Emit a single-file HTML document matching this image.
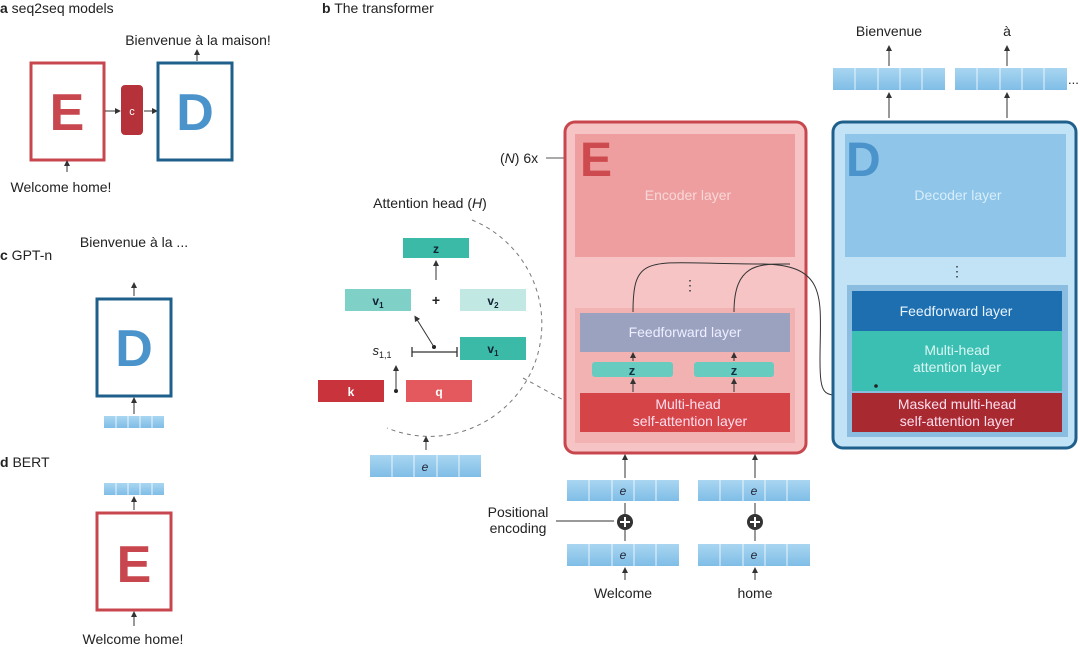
<!DOCTYPE html>
<html><head><meta charset="utf-8"><style>
html,body{margin:0;padding:0;background:#fff}
svg{display:block}
text{font-family:"Liberation Sans",sans-serif}
</style></head><body>
<svg width="1080" height="647" viewBox="0 0 1080 647" xmlns="http://www.w3.org/2000/svg">
<defs>
<marker id="ar" markerWidth="6" markerHeight="6" refX="3" refY="3" orient="auto"><path d="M0,0 L6,3 L0,6 z" fill="#333"/></marker>
<linearGradient id="tok" x1="0" x2="0" y1="0" y2="1"><stop offset="0" stop-color="#a9d6f1"/><stop offset="1" stop-color="#7fbde6"/></linearGradient>
</defs>
<g font-size="14" fill="#222">
<text x="0" y="13"><tspan font-weight="bold">a</tspan>  seq2seq models</text>
<text x="322" y="13"><tspan font-weight="bold">b</tspan>  The transformer</text>
<text x="0" y="260"><tspan font-weight="bold">c</tspan>  GPT-n</text>
<text x="0" y="467"><tspan font-weight="bold">d</tspan>  BERT</text>
</g>
<!-- panel a -->
<text x="198" y="45" font-size="14" text-anchor="middle" fill="#222">Bienvenue à la maison!</text>
<line x1="197" y1="61" x2="197" y2="52" stroke="#333" marker-end="url(#ar)"/>
<rect x="31" y="63" width="73" height="97" fill="#fff" stroke="#c8474f" stroke-width="3"/>
<text x="67" y="130" font-size="52" font-weight="bold" fill="#c8474f" text-anchor="middle">E</text>
<line x1="105" y1="111" x2="118" y2="111" stroke="#333" marker-end="url(#ar)"/>
<rect x="121" y="85" width="22" height="50" rx="4" fill="#b5323a"/>
<text x="132" y="115" font-size="11" fill="#fff" text-anchor="middle">c</text>
<line x1="144" y1="111" x2="155" y2="111" stroke="#333" marker-end="url(#ar)"/>
<rect x="158" y="63" width="74" height="97" fill="#fff" stroke="#1f5f8b" stroke-width="3"/>
<text x="195" y="130" font-size="52" font-weight="bold" fill="#4b93cb" text-anchor="middle">D</text>
<line x1="67" y1="172" x2="67" y2="163" stroke="#333" marker-end="url(#ar)"/>
<text x="61" y="192" font-size="14" text-anchor="middle" fill="#222">Welcome home!</text>
<!-- panel c -->
<text x="134" y="247" font-size="14" text-anchor="middle" fill="#222">Bienvenue à la ...</text>
<line x1="134" y1="296" x2="134" y2="285" stroke="#333" marker-end="url(#ar)"/>
<rect x="97" y="299" width="74" height="97" fill="#fff" stroke="#1f5f8b" stroke-width="3"/>
<text x="134" y="366" font-size="52" font-weight="bold" fill="#4b93cb" text-anchor="middle">D</text>
<line x1="134" y1="414" x2="134" y2="400" stroke="#333" marker-end="url(#ar)"/>
<rect x="104" y="416" width="60" height="12" fill="url(#tok)"/>
<g stroke="#fff" stroke-width="0.8"><line x1="116" y1="416" x2="116" y2="428"/><line x1="128" y1="416" x2="128" y2="428"/><line x1="140" y1="416" x2="140" y2="428"/><line x1="152" y1="416" x2="152" y2="428"/></g>
<!-- panel d -->
<rect x="104" y="483" width="60" height="12" fill="url(#tok)"/>
<g stroke="#fff" stroke-width="0.8"><line x1="116" y1="483" x2="116" y2="495"/><line x1="128" y1="483" x2="128" y2="495"/><line x1="140" y1="483" x2="140" y2="495"/><line x1="152" y1="483" x2="152" y2="495"/></g>
<line x1="134" y1="510" x2="134" y2="499" stroke="#333" marker-end="url(#ar)"/>
<rect x="97" y="513" width="74" height="97" fill="#fff" stroke="#c8474f" stroke-width="3"/>
<text x="134" y="582" font-size="52" font-weight="bold" fill="#c8474f" text-anchor="middle">E</text>
<line x1="134" y1="626" x2="134" y2="614" stroke="#333" marker-end="url(#ar)"/>
<text x="133" y="644" font-size="14" text-anchor="middle" fill="#222">Welcome home!</text>

<!-- attention head -->
<text x="430" y="208" font-size="14" text-anchor="middle" fill="#222">Attention head (<tspan font-style="italic">H</tspan>)</text>
<path d="M472,220 A106,106 0 0 1 387,428" fill="none" stroke="#777" stroke-dasharray="4,4"/>
<line x1="523" y1="378" x2="578" y2="408" stroke="#777" stroke-dasharray="4,4"/>
<rect x="403" y="238" width="66" height="20" fill="#3bbaa8"/>
<text x="436" y="253" font-size="12" font-weight="bold" text-anchor="middle" fill="#123">z</text>
<line x1="436" y1="280" x2="436" y2="263" stroke="#333" marker-end="url(#ar)"/>
<rect x="345" y="289" width="66" height="22" fill="#7fd0c6"/>
<text x="378" y="305" font-size="12" font-weight="bold" text-anchor="middle" fill="#123">v<tspan font-size="8" dy="3">1</tspan></text>
<text x="436" y="305" font-size="14" font-weight="bold" text-anchor="middle" fill="#222">+</text>
<rect x="460" y="289" width="66" height="22" fill="#c2e8e4"/>
<text x="493" y="305" font-size="12" font-weight="bold" text-anchor="middle" fill="#123">v<tspan font-size="8" dy="3">2</tspan></text>
<rect x="460" y="337" width="66" height="23" fill="#3bbaa8"/>
<text x="493" y="353" font-size="12" font-weight="bold" text-anchor="middle" fill="#123">v<tspan font-size="8" dy="3">1</tspan></text>
<text x="382" y="355" font-size="13" font-style="italic" text-anchor="middle" fill="#222">s<tspan font-size="9" font-style="normal" dy="3">1,1</tspan></text>
<g stroke="#333" stroke-width="1.3"><line x1="412" y1="352" x2="457" y2="352"/><line x1="412" y1="347" x2="412" y2="357"/><line x1="457" y1="347" x2="457" y2="357"/></g>
<circle cx="434" cy="347" r="2" fill="#222"/>
<line x1="434" y1="347" x2="416" y2="318" stroke="#333" marker-end="url(#ar)"/>
<circle cx="396" cy="391" r="2" fill="#222"/>
<line x1="396" y1="391" x2="396" y2="368" stroke="#333" marker-end="url(#ar)"/>
<rect x="318" y="380" width="66" height="22" fill="#c8333c"/>
<text x="351" y="396" font-size="12" font-weight="bold" text-anchor="middle" fill="#fff">k</text>
<rect x="406" y="380" width="66" height="22" fill="#e3595d"/>
<text x="439" y="396" font-size="12" font-weight="bold" text-anchor="middle" fill="#fff">q</text>
<line x1="426" y1="450" x2="426" y2="439" stroke="#333" marker-end="url(#ar)"/>
<rect x="370" y="455" width="111" height="22" fill="url(#tok)"/>
<g stroke="#fff" stroke-width="0.8"><line x1="392" y1="455" x2="392" y2="477"/><line x1="414" y1="455" x2="414" y2="477"/><line x1="437" y1="455" x2="437" y2="477"/><line x1="459" y1="455" x2="459" y2="477"/></g>
<text x="425" y="471" font-size="12" font-style="italic" text-anchor="middle" fill="#223">e</text>

<!-- encoder -->
<text x="500" y="163" font-size="14" fill="#222">(<tspan font-style="italic">N</tspan>) 6x</text>
<line x1="546" y1="158" x2="580" y2="158" stroke="#555"/>
<rect x="565" y="122" width="241" height="331" rx="10" fill="#f6c4c4" stroke="#c8474f" stroke-width="3"/>
<rect x="575" y="134" width="220" height="123" fill="#ee9e9f"/>
<text x="580" y="176" font-size="48" font-weight="bold" fill="#cd4a4f">E</text>
<text x="688" y="200" font-size="14" text-anchor="middle" fill="#f8d8d8">Encoder layer</text>
<text x="690" y="290" font-size="14" text-anchor="middle" fill="#333">⋮</text>
<rect x="575" y="308" width="220" height="135" fill="#f3b2b2"/>
<rect x="580" y="313" width="210" height="39" fill="#9aa2c0"/>
<text x="685" y="337" font-size="14" text-anchor="middle" fill="#eef">Feedforward layer</text>
<rect x="592" y="362" width="81" height="15" rx="3" fill="#67cbbf"/>
<rect x="694" y="362" width="80" height="15" rx="3" fill="#67cbbf"/>
<text x="632" y="375" font-size="13" font-weight="bold" text-anchor="middle" fill="#134">z</text>
<text x="734" y="375" font-size="13" font-weight="bold" text-anchor="middle" fill="#134">z</text>
<rect x="580" y="393" width="210" height="39" fill="#d54547"/>
<text x="688" y="409" font-size="14" text-anchor="middle" fill="#fde">Multi-head</text>
<text x="690" y="426" font-size="14" text-anchor="middle" fill="#fde">self-attention layer</text>
<g stroke="#333"><line x1="633" y1="392" x2="633" y2="381" marker-end="url(#ar)"/><line x1="734" y1="392" x2="734" y2="381" marker-end="url(#ar)"/><line x1="633" y1="361" x2="633" y2="355" marker-end="url(#ar)"/><line x1="734" y1="361" x2="734" y2="355" marker-end="url(#ar)"/></g>
<path d="M633,312 C633,250 650,264 760,264 C830,264 820,300 820,360 C820,400 825,395 852,395" fill="none" stroke="#333"/>
<path d="M734,312 C734,262 760,264 790,264" fill="none" stroke="#333"/>

<!-- decoder -->
<rect x="833" y="122" width="243" height="326" rx="10" fill="#c1e3f5" stroke="#1f5f8b" stroke-width="3"/>
<rect x="845" y="134" width="221" height="123" fill="#8ec5e9"/>
<text x="846" y="176" font-size="48" font-weight="bold" fill="#4b93cb">D</text>
<text x="958" y="200" font-size="14" text-anchor="middle" fill="#d8eefa">Decoder layer</text>
<text x="957" y="276" font-size="14" text-anchor="middle" fill="#333">⋮</text>
<rect x="847" y="285" width="221" height="152" fill="#8bbde0"/>
<rect x="852" y="291" width="210" height="40" fill="#1d6fb0"/>
<text x="956" y="316" font-size="14" text-anchor="middle" fill="#e8f4ff">Feedforward layer</text>
<rect x="852" y="331" width="210" height="60" fill="#3cbfb3"/>
<text x="957" y="355" font-size="14" text-anchor="middle" fill="#d8f6f2">Multi-head</text>
<text x="957" y="372" font-size="14" text-anchor="middle" fill="#d8f6f2">attention layer</text>
<circle cx="876" cy="386" r="1.8" fill="#222"/>
<rect x="852" y="393" width="210" height="39" fill="#a82a30"/>
<text x="957" y="409" font-size="14" text-anchor="middle" fill="#fde">Masked multi-head</text>
<text x="957" y="426" font-size="14" text-anchor="middle" fill="#fde">self-attention layer</text>

<!-- decoder outputs -->
<text x="889" y="36" font-size="14" text-anchor="middle" fill="#222">Bienvenue</text>
<text x="1007" y="36" font-size="14" text-anchor="middle" fill="#222">à</text>
<g stroke="#333"><line x1="889" y1="66" x2="889" y2="48" marker-end="url(#ar)"/><line x1="1007" y1="66" x2="1007" y2="48" marker-end="url(#ar)"/>
<line x1="889" y1="118" x2="889" y2="95" marker-end="url(#ar)"/><line x1="1007" y1="118" x2="1007" y2="95" marker-end="url(#ar)"/></g>
<rect x="833" y="68" width="112" height="22" fill="url(#tok)"/>
<rect x="955" y="68" width="112" height="22" fill="url(#tok)"/>
<g stroke="#fff" stroke-width="0.8"><line x1="855" y1="68" x2="855" y2="90"/><line x1="878" y1="68" x2="878" y2="90"/><line x1="900" y1="68" x2="900" y2="90"/><line x1="922" y1="68" x2="922" y2="90"/>
<line x1="977" y1="68" x2="977" y2="90"/><line x1="1000" y1="68" x2="1000" y2="90"/><line x1="1022" y1="68" x2="1022" y2="90"/><line x1="1044" y1="68" x2="1044" y2="90"/></g>
<text x="1068" y="84" font-size="13" fill="#222">...</text>

<!-- encoder inputs -->
<g stroke="#333"><line x1="625" y1="478" x2="625" y2="457" marker-end="url(#ar)"/><line x1="755" y1="478" x2="755" y2="457" marker-end="url(#ar)"/>
<line x1="625" y1="541" x2="625" y2="503"/><line x1="755" y1="541" x2="755" y2="503"/>
<line x1="625" y1="580" x2="625" y2="570" marker-end="url(#ar)"/><line x1="755" y1="580" x2="755" y2="570" marker-end="url(#ar)"/>
<line x1="556" y1="521" x2="614" y2="521"/></g>
<rect x="567" y="480" width="112" height="21" fill="url(#tok)"/>
<rect x="698" y="480" width="112" height="21" fill="url(#tok)"/>
<rect x="567" y="544" width="112" height="22" fill="url(#tok)"/>
<rect x="698" y="544" width="112" height="22" fill="url(#tok)"/>
<g stroke="#fff" stroke-width="0.8">
<line x1="589" y1="480" x2="589" y2="501"/><line x1="612" y1="480" x2="612" y2="501"/><line x1="634" y1="480" x2="634" y2="501"/><line x1="656" y1="480" x2="656" y2="501"/>
<line x1="720" y1="480" x2="720" y2="501"/><line x1="743" y1="480" x2="743" y2="501"/><line x1="765" y1="480" x2="765" y2="501"/><line x1="787" y1="480" x2="787" y2="501"/>
<line x1="589" y1="544" x2="589" y2="566"/><line x1="612" y1="544" x2="612" y2="566"/><line x1="634" y1="544" x2="634" y2="566"/><line x1="656" y1="544" x2="656" y2="566"/>
<line x1="720" y1="544" x2="720" y2="566"/><line x1="743" y1="544" x2="743" y2="566"/><line x1="765" y1="544" x2="765" y2="566"/><line x1="787" y1="544" x2="787" y2="566"/></g>
<g font-size="12" font-style="italic" text-anchor="middle" fill="#223">
<text x="623" y="495">e</text><text x="754" y="495">e</text><text x="623" y="559">e</text><text x="754" y="559">e</text></g>
<circle cx="625" cy="522" r="8" fill="#333"/><circle cx="755" cy="522" r="8" fill="#333"/>
<g stroke="#fff" stroke-width="2"><line x1="620" y1="522" x2="630" y2="522"/><line x1="625" y1="517" x2="625" y2="527"/><line x1="750" y1="522" x2="760" y2="522"/><line x1="755" y1="517" x2="755" y2="527"/></g>
<text x="518" y="517" font-size="14" text-anchor="middle" fill="#222">Positional</text>
<text x="518" y="533" font-size="14" text-anchor="middle" fill="#222">encoding</text>
<text x="623" y="598" font-size="14" text-anchor="middle" fill="#222">Welcome</text>
<text x="755" y="598" font-size="14" text-anchor="middle" fill="#222">home</text>
</svg>
</body></html>
